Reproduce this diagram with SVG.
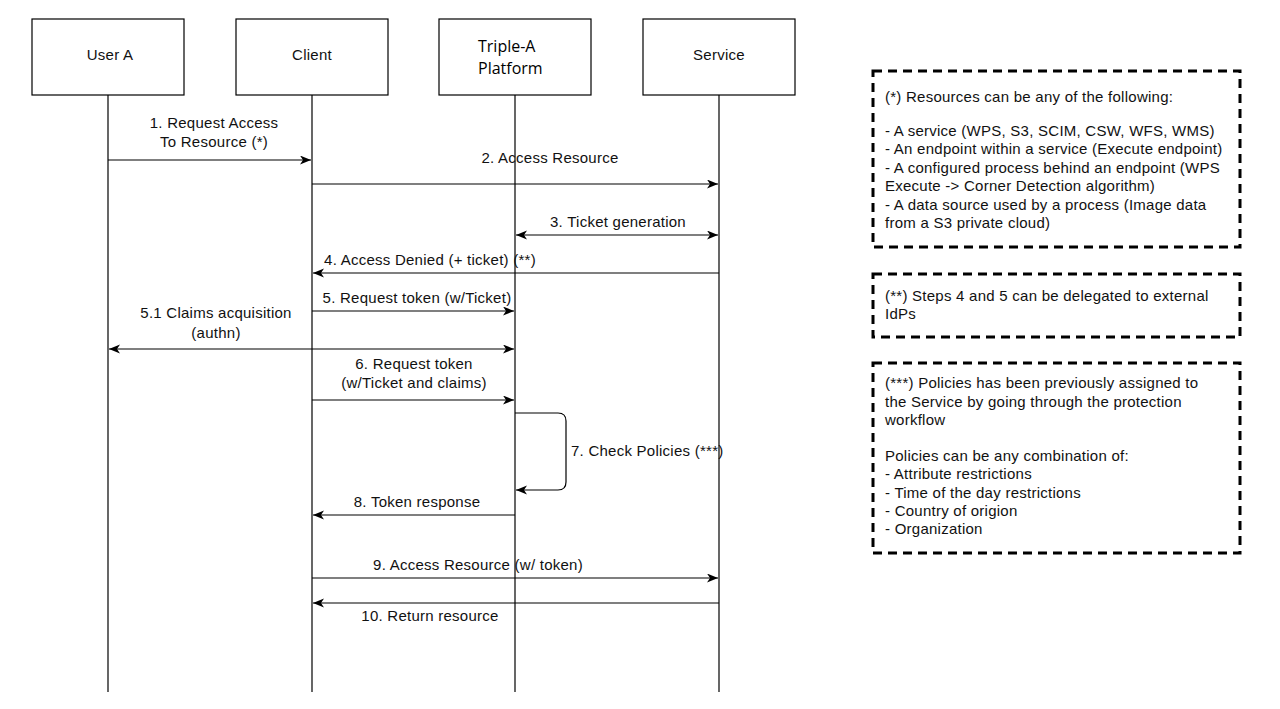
<svg xmlns="http://www.w3.org/2000/svg" width="1280" height="709" viewBox="0 0 1280 709">
<style>
.box{fill:#fff;stroke:#000;stroke-width:1.2}
.life{stroke:#000;stroke-width:1.2;fill:none}
.msg{stroke:#000;stroke-width:1.2;fill:none}
.t{font-family:"Liberation Sans",Arial,sans-serif;font-size:15px;letter-spacing:0.25px;fill:#111}
.c{text-anchor:middle}
.note{fill:none;stroke:#000;stroke-width:3;stroke-dasharray:9 6}
.nt{font-family:"Liberation Sans",Arial,sans-serif;font-size:15px;letter-spacing:0.25px;fill:#111}
.tp{font-family:"Open Sans","Noto Sans",sans-serif;font-size:16px;fill:#000}
</style>
<defs>
<marker id="ah" markerUnits="userSpaceOnUse" markerWidth="14" markerHeight="12" refX="11" refY="4.5" orient="auto-start-reverse">
<path d="M0,0 L11,4.5 L0,9 L3,4.5 z" fill="#000"/>
</marker>
</defs>
<rect width="1280" height="709" fill="#fff"/>
<g id="lifelines">
<line class="life" x1="108" y1="95" x2="108" y2="692"/>
<line class="life" x1="312" y1="95" x2="312" y2="692"/>
<line class="life" x1="515" y1="95" x2="515" y2="692"/>
<line class="life" x1="719" y1="95" x2="719" y2="692"/>
</g>
<g id="userA"><rect class="box" x="32" y="19" width="152" height="76"/><text class="t c" x="110" y="60">User A</text></g>
<g id="client"><rect class="box" x="236" y="19" width="152" height="76"/><text class="t c" x="312" y="60">Client</text></g>
<g id="tripleA"><rect class="box" x="439" y="19" width="152" height="76"/><text class="tp" x="478" y="52">Triple-A</text><text class="tp" x="478" y="74">Platform</text></g>
<g id="service"><rect class="box" x="643" y="19" width="152" height="76"/><text class="t c" x="719" y="60">Service</text></g>
<g id="connectors">
<line class="msg" x1="108" y1="160" x2="311" y2="160" marker-end="url(#ah)"/>
<line class="msg" x1="312" y1="184" x2="718" y2="184" marker-end="url(#ah)"/>
<line class="msg" x1="516" y1="235" x2="718" y2="235" marker-start="url(#ah)" marker-end="url(#ah)"/>
<line class="msg" x1="719" y1="273" x2="313" y2="273" marker-end="url(#ah)"/>
<line class="msg" x1="312" y1="311" x2="514" y2="311" marker-end="url(#ah)"/>
<line class="msg" x1="109" y1="349" x2="514" y2="349" marker-start="url(#ah)" marker-end="url(#ah)"/>
<line class="msg" x1="312" y1="400" x2="514" y2="400" marker-end="url(#ah)"/>
<path class="msg" d="M515,413 H558 Q566,413 566,421 V482 Q566,490 558,490 H516" marker-end="url(#ah)"/>
<line class="msg" x1="515" y1="515" x2="313" y2="515" marker-end="url(#ah)"/>
<line class="msg" x1="312" y1="578" x2="718" y2="578" marker-end="url(#ah)"/>
<line class="msg" x1="719" y1="603" x2="313" y2="603" marker-end="url(#ah)"/>
</g>
<g id="labels">
<text class="t c" x="214" y="128">1. Request Access</text>
<text class="t c" x="214" y="147">To Resource (*)</text>
<text class="t c" x="550" y="163">2. Access Resource</text>
<text class="t c" x="618" y="227">3. Ticket generation</text>
<text class="t c" x="430" y="265">4. Access Denied (+ ticket) (**)</text>
<text class="t c" x="417" y="303">5. Request token (w/Ticket)</text>
<text class="t c" x="216" y="318">5.1 Claims acquisition</text>
<text class="t c" x="216" y="338">(authn)</text>
<text class="t c" x="414" y="369">6. Request token</text>
<text class="t c" x="414" y="388">(w/Ticket and claims)</text>
<text class="t" x="571" y="456">7. Check Policies (***)</text>
<text class="t c" x="417" y="507">8. Token response</text>
<text class="t c" x="478" y="570">9. Access Resource (w/ token)</text>
<text class="t c" x="430" y="621">10. Return resource</text>
</g>
<g id="note1">
<rect class="note" x="873" y="71" width="367" height="176"/>
<text class="nt" x="885" y="102">(*) Resources can be any of the following:</text>
<text class="nt" x="885" y="136">- A service (WPS, S3, SCIM, CSW, WFS, WMS)</text>
<text class="nt" x="885" y="154">- An endpoint within a service (Execute endpoint)</text>
<text class="nt" x="885" y="173">- A configured process behind an endpoint (WPS</text>
<text class="nt" x="885" y="191">Execute -&gt; Corner Detection algorithm)</text>
<text class="nt" x="885" y="210">- A data source used by a process (Image data</text>
<text class="nt" x="885" y="228">from a S3 private cloud)</text>
</g>
<g id="note2">
<rect class="note" x="873" y="274" width="367" height="63"/>
<text class="nt" x="885" y="301">(**) Steps 4 and 5 can be delegated to external</text>
<text class="nt" x="885" y="319">IdPs</text>
</g>
<g id="note3">
<rect class="note" x="873" y="363" width="367" height="190"/>
<text class="nt" x="885" y="388">(***) Policies has been previously assigned to</text>
<text class="nt" x="885" y="407">the Service by going through the protection</text>
<text class="nt" x="885" y="425">workflow</text>
<text class="nt" x="885" y="461">Policies can be any combination of:</text>
<text class="nt" x="885" y="479">- Attribute restrictions</text>
<text class="nt" x="885" y="498">- Time of the day restrictions</text>
<text class="nt" x="885" y="516">- Country of origion</text>
<text class="nt" x="885" y="534">- Organization</text>
</g>
</svg>
